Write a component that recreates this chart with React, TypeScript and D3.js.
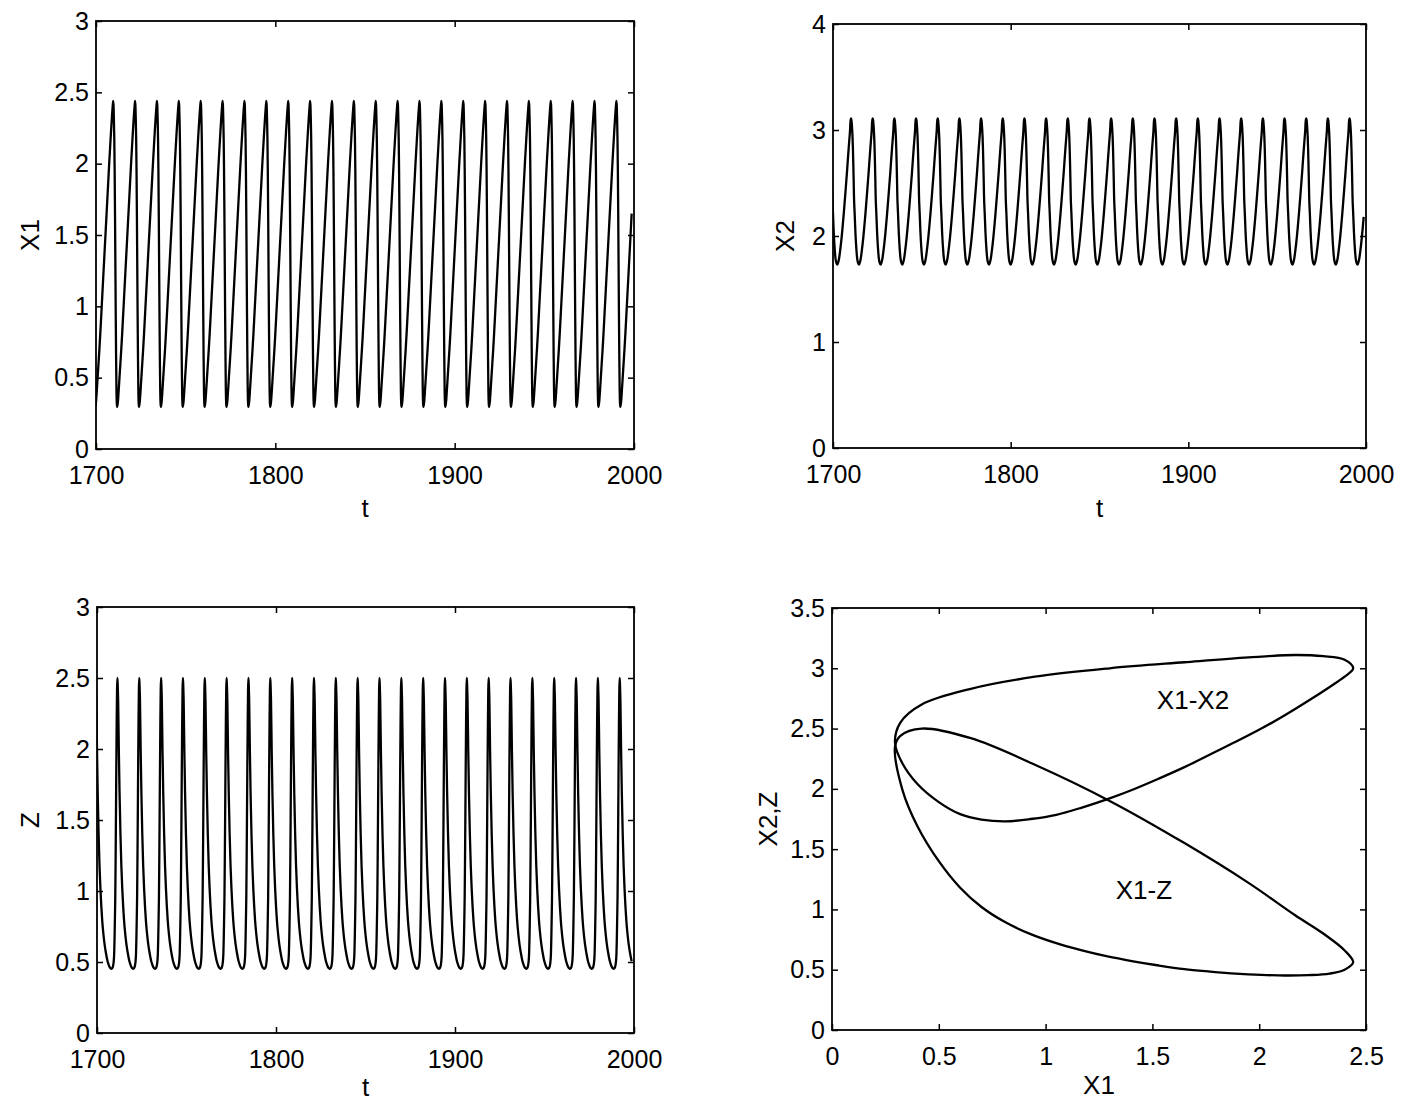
import React, { useEffect, useRef } from 'react';
import * as d3 from 'd3';

// one period of the limit cycle.
// tau = time since the X1 peak (period about 12.2)
const cycleTau = [0, 0.2, 0.4, 0.6, 0.8, 1.0, 1.2, 1.4, 1.6, 1.8, 2.0, 2.2,
  2.6, 3.0, 3.5, 4.0, 4.5, 5.0, 5.5, 6.0, 6.5, 7.0, 7.5, 8.0, 8.5, 9.0, 9.5, 10.0, 10.5, 11.0, 11.5, 11.9];
const cycleX1 = [2.44, 2.40, 2.30, 2.17, 1.95, 1.65, 1.30, 0.95, 0.65, 0.42, 0.32, 0.295,
  0.33, 0.40, 0.50, 0.60, 0.70, 0.81, 0.93, 1.05, 1.17, 1.29, 1.41, 1.53, 1.65, 1.77, 1.89, 2.01, 2.12, 2.23, 2.33, 2.40];
const cycleX2 = [3.00, 3.07, 3.10, 3.11, 3.09, 3.05, 3.00, 2.93, 2.83, 2.70, 2.55, 2.38,
  2.21, 2.04, 1.89, 1.79, 1.745, 1.73, 1.75, 1.785, 1.845, 1.915, 1.995, 2.085, 2.18, 2.285, 2.39, 2.50, 2.61, 2.73, 2.845, 2.93];
const cycleZ = [0.56, 0.66, 0.80, 0.95, 1.22, 1.55, 1.90, 2.20, 2.42, 2.50, 2.44, 2.35,
  1.99, 1.69, 1.40, 1.18, 1.02, 0.895, 0.795, 0.72, 0.66, 0.61, 0.57, 0.535, 0.505, 0.485, 0.468, 0.457, 0.452, 0.455, 0.468, 0.50];

// times of the X1 maxima in the window
const peakTimes = [1697.4, 1709.6, 1721.8, 1734.0, 1746.2, 1758.4, 1770.6, 1782.8, 1795.0, 1807.2,
  1819.4, 1831.6, 1843.8, 1856.0, 1868.2, 1880.4, 1892.6, 1904.8, 1917.0, 1929.2,
  1941.4, 1953.6, 1965.8, 1978.0, 1990.2];
const tEnd = 1998.8;

const timeTicks = [1700, 1800, 1900, 2000];
const ticksHalfTo3 = [0, 0.5, 1, 1.5, 2, 2.5, 3];
const ticksTo4 = [0, 1, 2, 3, 4];
const phaseXTicks = [0, 0.5, 1, 1.5, 2, 2.5];
const phaseYTicks = [0, 0.5, 1, 1.5, 2, 2.5, 3, 3.5];

const loopLabels = [
  { text: 'X1-X2', x: 1.69, y: 2.74 },
  { text: 'X1-Z', x: 1.46, y: 1.16 },
];

const W = 1402;
const H = 1103;
const FONT = '"Liberation Sans", Arial, Helvetica, sans-serif';

const timeSeries = (values) => {
  const pts = [];
  peakTimes.forEach(p => {
    cycleTau.forEach((tau, i) => {
      const t = p + tau;
      if (t <= tEnd) pts.push([t, values[i]]);
    });
  });
  return pts;
};

const loop = (values) => cycleTau.map((_, i) => [cycleX1[i], values[i]]);

const fmt = d => String(d);

const panels = [
  { id: 'x1', left: 96, right: 634, top: 21, bottom: 449, xDomain: [1700, 2000], yDomain: [0, 3],
    xTicks: timeTicks, yTicks: ticksHalfTo3, xLabel: 't', yLabel: 'X1', yLabelX: 39, xLabelY: 517,
    series: [{ pts: timeSeries(cycleX1), closed: false }] },
  { id: 'x2', left: 833, right: 1366, top: 24, bottom: 448, xDomain: [1700, 2000], yDomain: [0, 4],
    xTicks: timeTicks, yTicks: ticksTo4, xLabel: 't', yLabel: 'X2', yLabelX: 794, xLabelY: 517,
    series: [{ pts: timeSeries(cycleX2), closed: false }] },
  { id: 'z', left: 97, right: 634, top: 607, bottom: 1033, xDomain: [1700, 2000], yDomain: [0, 3],
    xTicks: timeTicks, yTicks: ticksHalfTo3, xLabel: 't', yLabel: 'Z', yLabelX: 39, xLabelY: 1096,
    series: [{ pts: timeSeries(cycleZ), closed: false }] },
  { id: 'ph', left: 832, right: 1366, top: 608, bottom: 1030, xDomain: [0, 2.5], yDomain: [0, 3.5],
    xTicks: phaseXTicks, yTicks: phaseYTicks, xLabel: 'X1', yLabel: 'X2,Z', yLabelX: 777, xLabelY: 1094,
    series: [{ pts: loop(cycleX2), closed: true }, { pts: loop(cycleZ), closed: true }],
    labels: loopLabels },
];

const styleAxis = (g) => {
  g.select('.domain').remove();
  g.attr('font-family', FONT).attr('font-size', 25);
  g.selectAll('line').attr('stroke', '#000').attr('stroke-width', 1.5);
  g.selectAll('text').attr('fill', '#000');
};

const drawPanel = (svg, p) => {
  const x = d3.scaleLinear().domain(p.xDomain).range([p.left, p.right]);
  const y = d3.scaleLinear().domain(p.yDomain).range([p.bottom, p.top]);
  const g = svg.append('g');

  const clipId = `clip-${p.id}`;
  g.append('clipPath').attr('id', clipId)
    .append('rect')
    .attr('x', p.left).attr('y', p.top)
    .attr('width', p.right - p.left).attr('height', p.bottom - p.top);

  p.series.forEach(s => {
    const line = d3.line()
      .x(d => x(d[0]))
      .y(d => y(d[1]))
      .curve(s.closed ? d3.curveCatmullRomClosed.alpha(0.5) : d3.curveMonotoneX);
    g.append('path')
      .datum(s.pts)
      .attr('clip-path', `url(#${clipId})`)
      .attr('fill', 'none')
      .attr('stroke', '#000')
      .attr('stroke-width', 2.3)
      .attr('stroke-linejoin', 'round')
      .attr('d', line);
  });

  g.append('g').attr('transform', `translate(0,${p.bottom})`)
    .call(d3.axisBottom(x).tickValues(p.xTicks).tickSize(-6).tickPadding(17).tickFormat(fmt))
    .call(styleAxis);
  g.append('g').attr('transform', `translate(0,${p.top})`)
    .call(d3.axisTop(x).tickValues(p.xTicks).tickSize(-6).tickFormat(() => ''))
    .call(styleAxis);
  g.append('g').attr('transform', `translate(${p.left},0)`)
    .call(d3.axisLeft(y).tickValues(p.yTicks).tickSize(-6).tickPadding(7).tickFormat(fmt))
    .call(styleAxis);
  g.append('g').attr('transform', `translate(${p.right},0)`)
    .call(d3.axisRight(y).tickValues(p.yTicks).tickSize(-6).tickFormat(() => ''))
    .call(styleAxis);

  g.append('rect')
    .attr('x', p.left).attr('y', p.top)
    .attr('width', p.right - p.left).attr('height', p.bottom - p.top)
    .attr('fill', 'none').attr('stroke', '#000').attr('stroke-width', 1.8);

  g.append('text')
    .attr('x', (p.left + p.right) / 2).attr('y', p.xLabelY)
    .attr('text-anchor', 'middle')
    .attr('font-family', FONT).attr('font-size', 26)
    .text(p.xLabel);

  g.append('text')
    .attr('transform', `translate(${p.yLabelX},${(p.top + p.bottom) / 2}) rotate(-90)`)
    .attr('text-anchor', 'middle')
    .attr('font-family', FONT).attr('font-size', 26)
    .text(p.yLabel);

  (p.labels || []).forEach(l => {
    g.append('text')
      .attr('x', x(l.x)).attr('y', y(l.y))
      .attr('dy', '0.35em')
      .attr('text-anchor', 'middle')
      .attr('font-family', FONT).attr('font-size', 26)
      .text(l.text);
  });
};

const App = () => {
  const ref = useRef(null);

  useEffect(() => {
    const svg = d3.select(ref.current);
    svg.selectAll('*').remove();
    panels.forEach(p => drawPanel(svg, p));
  });

  return (
    <svg
      ref={ref}
      width={W}
      height={H}
      viewBox={`0 0 ${W} ${H}`}
      style={{ position: 'absolute', left: 0, top: 0, background: '#fff' }}
    />
  );
};

export default App;
